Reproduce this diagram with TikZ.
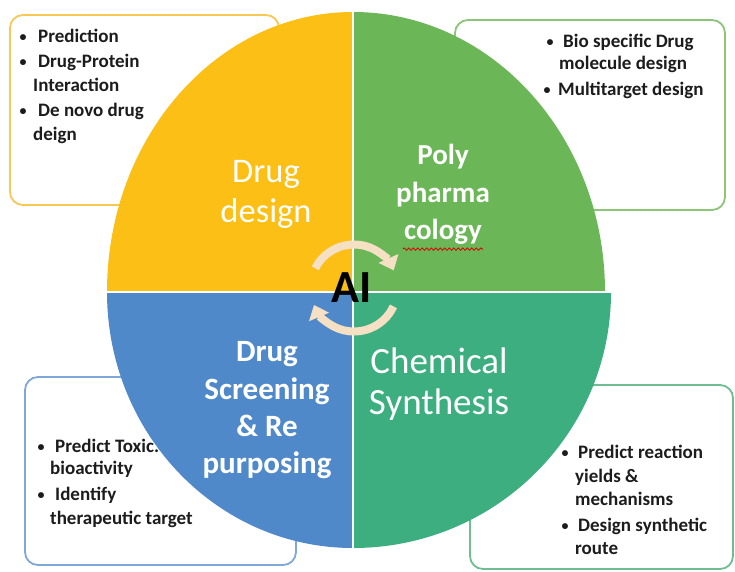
\documentclass[tikz,border=0pt]{standalone}
\usepackage{fontspec}
\setmainfont{Carlito}
\usetikzlibrary{arrows.meta,decorations.pathmorphing,calc}

\definecolor{dsYellow}{RGB}{251,191,22}
\definecolor{dsGreen}{RGB}{107,182,87}
\definecolor{dsBlue}{RGB}{79,137,201}
\definecolor{dsTeal}{RGB}{61,174,127}
\definecolor{edgeYellow}{RGB}{248,200,85}
\definecolor{edgeGreen}{RGB}{140,197,122}
\definecolor{edgeBlue}{RGB}{126,168,217}
\definecolor{edgeTeal}{RGB}{113,189,147}
\definecolor{arrowCream}{RGB}{246,224,196}
\definecolor{inkText}{RGB}{28,28,28}

\begin{document}
\begin{tikzpicture}[x=1pt,y=-1pt,
  infobox/.style={line width=1.8pt, rounded corners=13pt, fill=white},
  itemtext/.style={font=\bfseries\fontsize{19}{23}\selectfont, text=inkText, anchor=base west, inner sep=0pt},
  itembullet/.style={font=\bfseries\fontsize{14}{23}\selectfont, text=inkText, anchor=base, inner sep=0pt},
  biglabel/.style={text=white, anchor=base, inner sep=0pt, font=\fontsize{34.5}{40}\selectfont},
  boldlabel/.style={text=white, anchor=base, inner sep=0pt, font=\bfseries\fontsize{30}{37}\selectfont},
  cyclearrow/.style={draw=arrowCream, line width=8pt, -{Triangle[width=21pt,length=13pt]}},
]
\useasboundingbox (0,0) rectangle (735,571);

% ---- side boxes (behind the disc) ----
\draw[infobox, draw=edgeYellow] (10,15) rectangle (279,205);
\draw[infobox, draw=edgeGreen] (455,20) rectangle (725,210);
\draw[infobox, draw=edgeBlue] (25,377) rectangle (296,565);
\draw[infobox, draw=edgeTeal] (470,385) rectangle (733,569);

% drug design notes
\node[itembullet] (b11) at (23,41) {\textbullet};
\node[itemtext] (t11) at (38,42) {Prediction};
\node[itembullet] (b12) at (23,66) {\textbullet};
\node[itemtext] (t12) at (38,67) {Drug-Protein};
\node[itemtext] (t13) at (33,91) {Interaction};
\node[itembullet] (b14) at (23,115) {\textbullet};
\node[itemtext] (t14) at (38,116) {De novo drug};
\node[itemtext] (t15) at (33,140) {deign};

% polypharmacology notes
\node[itembullet] (b21) at (550,46) {\textbullet};
\node[itemtext] (t21) at (563,47) {Bio specific Drug};
\node[itemtext] (t22) at (559,69) {molecule design};
\node[itembullet] (b23) at (547,94) {\textbullet};
\node[itemtext] (t23) at (558,95) {Multitarget design};

% screening notes
\node[itembullet] (b31) at (41,451) {\textbullet};
\node[itemtext] (t31) at (55,452) {Predict Toxic.};
\node[itemtext] (t32) at (50,474) {bioactivity};
\node[itembullet] (b33) at (41,499) {\textbullet};
\node[itemtext] (t33) at (55,500) {Identify};
\node[itemtext] (t34) at (50,524) {therapeutic target};

% synthesis notes
\node[itembullet] (b41) at (565,457) {\textbullet};
\node[itemtext] (t41) at (578,458) {Predict reaction};
\node[itemtext] (t42) at (575,482) {yields \&};
\node[itemtext] (t43) at (575,505) {mechanisms};
\node[itembullet] (b44) at (565,530) {\textbullet};
\node[itemtext] (t44) at (578,531) {Design synthetic};
\node[itemtext] (t45) at (575,554) {route};

% ---- four quadrants of the disc ----
\fill[dsYellow] (353,292) -- (107,292) arc[start angle=180, end angle=270, x radius=246, y radius=280] -- cycle;
\fill[dsGreen] (353,292) -- (353,12) arc[start angle=270, end angle=360, x radius=252, y radius=280] -- cycle;
\fill[dsTeal] (353,292) -- (611,292) arc[start angle=0, end angle=90, x radius=258, y radius=256] -- cycle;
\fill[dsBlue] (353,292) -- (353,548) arc[start angle=90, end angle=180, x radius=246, y radius=256] -- cycle;
\draw[white, line width=1.4pt] (353,10) -- (353,550);
\draw[white, line width=1.4pt] (105,292) -- (613,292);

% ---- quadrant titles ----
\node[biglabel] (dd1) at (266,182) {Drug};
\node[biglabel] (dd2) at (266,222) {design};

\node[boldlabel, font=\bfseries\fontsize{29}{36}\selectfont] (pp1) at (443,164) {Poly};
\node[boldlabel, font=\bfseries\fontsize{29}{36}\selectfont] (pp2) at (443,202) {pharma};
\node[boldlabel, font=\bfseries\fontsize{29}{36}\selectfont] (pp3) at (443,239) {cology};
\draw[red!85!black, line width=0.8pt, decorate,
      decoration={snake, amplitude=1.2pt, segment length=4.5pt}]
  ($(pp3.south west)+(-1,5)$) coordinate (sq1) -- ($(pp3.south east)+(1,5)$) coordinate (sq2);

\node[boldlabel, font=\bfseries\fontsize{31}{37}\selectfont] (ds1) at (267,361) {Drug};
\node[boldlabel, font=\bfseries\fontsize{31}{37}\selectfont] (ds2) at (267,399) {Screening};
\node[boldlabel, font=\bfseries\fontsize{31}{37}\selectfont] (ds3) at (267,436) {\& Re};
\node[boldlabel, font=\bfseries\fontsize{31}{37}\selectfont] (ds4) at (267,473) {purposing};

\node[biglabel, font=\fontsize{37}{42}\selectfont] (cs1) at (439,373) {Chemical};
\node[biglabel, font=\fontsize{37}{42}\selectfont] (cs2) at (439,414) {Synthesis};

% ---- cycle arrows and centre label ----
\coordinate (hub) at (354,288);
\draw[cyclearrow] (hub) ++(207:43.5) arc[start angle=207, end angle=336, radius=43.5];
\draw[cyclearrow] (hub) ++(25:43.5) arc[start angle=25, end angle=157, radius=43.5];

\node[anchor=base, inner sep=0pt, font=\bfseries\fontsize{46}{50}\selectfont, text=black] (AI) at (352,302) {AI};
\end{tikzpicture}
\end{document}
